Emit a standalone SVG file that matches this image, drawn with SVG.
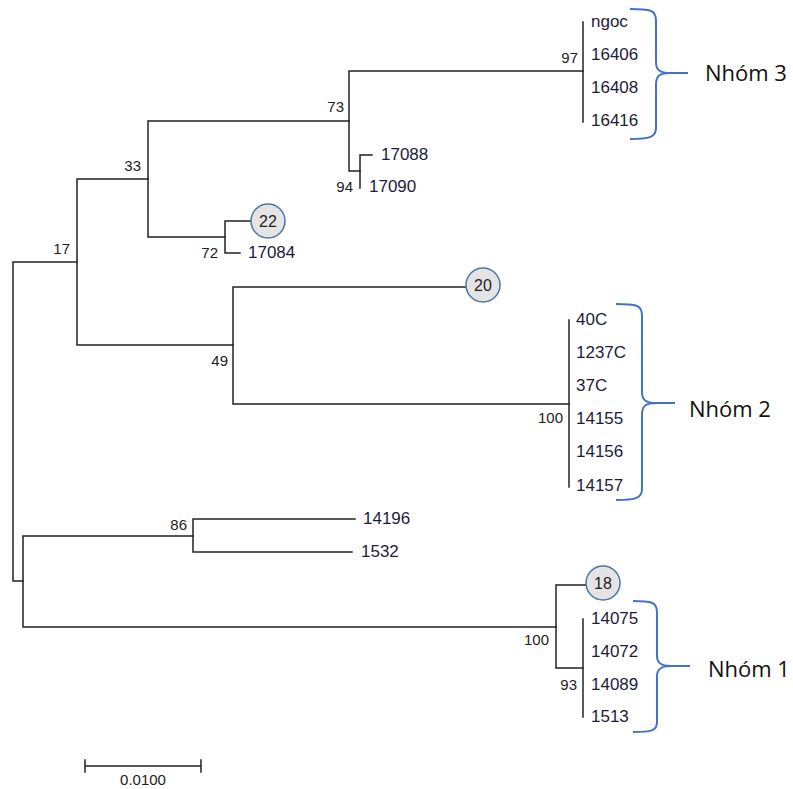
<svg xmlns="http://www.w3.org/2000/svg" width="793" height="789" viewBox="0 0 793 789">
<style>
.br{stroke:#222;stroke-width:1.5;fill:none;stroke-linecap:square}
.tx{font-family:"Liberation Sans",Arial,sans-serif;font-size:17px;fill:#1c1c3c}
.bs{font-family:"Liberation Sans",Arial,sans-serif;font-size:15px;fill:#222;text-anchor:end}
.circ{fill:#e4e4e4;stroke:#4a78a8;stroke-width:1.5}
.ct{font-family:"Liberation Sans",Arial,sans-serif;font-size:16px;fill:#222;text-anchor:middle}
.brace{stroke:#4472c4;stroke-width:2;fill:none}
.grp{font-family:"Open Sans","Noto Sans",sans-serif;font-size:22px;fill:#111}
</style>
<rect width="793" height="789" fill="#fff"/>
<g id="connectors">
<path class="br" d="M13,262V581M13,262H77M13,581H23"/>
<path class="br" d="M77,179V345M77,179H148M77,345H233"/>
<path class="br" d="M148,121V237M148,121H349M148,237H225"/>
<path class="br" d="M349,71V171M349,71H583M349,171H360"/>
<path class="br" d="M583,22V122"/>
<path class="br" d="M360,155V188M360,155H372"/>
<path class="br" d="M225,221V253M225,221H251M225,253H240"/>
<path class="br" d="M233,287V404M233,287H466M233,404H569"/>
<path class="br" d="M569,320V487"/>
<path class="br" d="M23,536V627M23,536H193M23,627H556"/>
<path class="br" d="M193,519V552M193,519H355M193,552H352"/>
<path class="br" d="M556,585V668M556,585H586M556,668H583"/>
<path class="br" d="M583,619V717"/>
</g>
<g id="bootstrap">
<text class="bs" x="578" y="63">97</text>
<text class="bs" x="344" y="112">73</text>
<text class="bs" x="141" y="171">33</text>
<text class="bs" x="70" y="254">17</text>
<text class="bs" x="218" y="258">72</text>
<text class="bs" x="353" y="192">94</text>
<text class="bs" x="228" y="366">49</text>
<text class="bs" x="563" y="423">100</text>
<text class="bs" x="187" y="530">86</text>
<text class="bs" x="549" y="645">100</text>
<text class="bs" x="577" y="690">93</text>
</g>
<g id="taxa">
<text class="tx" x="591" y="27">ngoc</text>
<text class="tx" x="591" y="60">16406</text>
<text class="tx" x="591" y="93">16408</text>
<text class="tx" x="591" y="126">16416</text>
<text class="tx" x="381" y="160">17088</text>
<text class="tx" x="369" y="192">17090</text>
<text class="tx" x="248" y="258">17084</text>
<text class="tx" x="576" y="325">40C</text>
<text class="tx" x="576" y="358">1237C</text>
<text class="tx" x="576" y="391">37C</text>
<text class="tx" x="576" y="424">14155</text>
<text class="tx" x="576" y="457">14156</text>
<text class="tx" x="576" y="491">14157</text>
<text class="tx" x="363" y="524">14196</text>
<text class="tx" x="361" y="557">1532</text>
<text class="tx" x="591" y="624">14075</text>
<text class="tx" x="591" y="657">14072</text>
<text class="tx" x="591" y="690">14089</text>
<text class="tx" x="591" y="722">1513</text>
</g>
<g id="node22"><circle class="circ" cx="268" cy="221" r="17"/><text class="ct" x="268" y="227">22</text></g>
<g id="node20"><circle class="circ" cx="483" cy="285" r="17"/><text class="ct" x="483" y="291">20</text></g>
<g id="node18"><circle class="circ" cx="603" cy="583" r="17"/><text class="ct" x="603" y="589">18</text></g>
<g id="group3">
<path class="brace" d="M630,9C650,9 656,10 656,20V62C656,70 660,73 670,73H688M670,73C660,73 656,76 656,84V128C656,137 650,139 630,139"/>
<text class="grp" x="705" y="81">Nhóm 3</text>
</g>
<g id="group2">
<path class="brace" d="M616,304C636,304 642,305 642,315V392C642,400 646,403 656,403H675M656,403C646,403 642,406 642,414V489C642,498 636,500 616,500"/>
<text class="grp" x="689" y="417">Nhóm 2</text>
</g>
<g id="group1">
<path class="brace" d="M633,601C651,601 657,602 657,612V656C657,663 661,666 671,666H690M671,666C661,666 657,669 657,676V722C657,731 651,732 633,732"/>
<text class="grp" x="708" y="677">Nhóm 1</text>
</g>
<g id="scale">
<path class="br" d="M85,766H201M85,760V772M201,760V772"/>
<text class="ct" x="143" y="785" style="font-size:15px">0.0100</text>
</g>
</svg>
